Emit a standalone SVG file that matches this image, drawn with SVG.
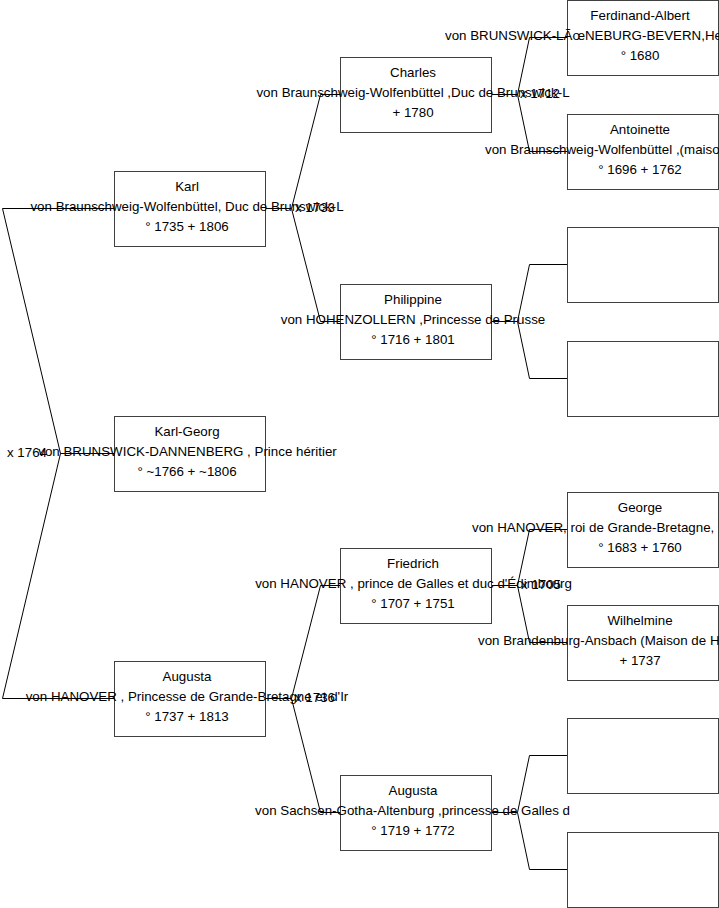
<svg xmlns="http://www.w3.org/2000/svg" width="719" height="908" viewBox="0 0 719 908">
<style>
.box{fill:#fff;stroke:#404040;stroke-width:1}
.con{fill:none;stroke:#000;stroke-width:1}
text{font-family:"Liberation Sans",Arial,sans-serif;font-size:13.33px;fill:#000}
.c{text-anchor:middle}
</style>
<rect width="719" height="908" fill="#fff"/>
<g id="connectors" class="con">
<path d="M114.5,208.5 H2.5 L60.5,453.5 L2.5,698.5 H114.5 M60.5,453.5 H114.5"/>
<path d="M265.5,208.5 H291.5 L320.5,94.5 H340.5 M291.5,208.5 L320.5,321.5 H340.5"/>
<path d="M265.5,698.5 H291.5 L320.5,585.5 H340.5 M291.5,698.5 L320.5,812.5 H340.5"/>
<path d="M491.5,94.5 H517.5 L529.5,37.5 H567.5 M517.5,94.5 L529.5,151.5 H567.5"/>
<path d="M491.5,321.5 H517.5 L529.5,264.5 H567.5 M517.5,321.5 L529.5,378.5 H567.5"/>
<path d="M491.5,585.5 H517.5 L529.5,529.5 H567.5 M517.5,585.5 L529.5,642.5 H567.5"/>
<path d="M491.5,812.5 H517.5 L529.5,755.5 H567.5 M517.5,812.5 L529.5,869.5 H567.5"/>
</g>
<g id="marriages">
<text x="7" y="457">x 1764</text>
<text x="295" y="212">x 1733</text>
<text x="295" y="702">x 1736</text>
<text x="520" y="98">x 1712</text>
<text x="521" y="589">x 1705</text>
</g>
<g id="karl-georg">
<rect class="box" x="114.5" y="416.5" width="151" height="75"/>
<text class="c" x="187" y="436">Karl-Georg</text>
<text class="c" x="187.5" y="456">von BRUNSWICK-DANNENBERG , Prince héritier</text>
<text class="c" x="187" y="476">° ~1766 + ~1806</text>
</g>
<g id="karl">
<rect class="box" x="114.5" y="171.5" width="151" height="75"/>
<text class="c" x="187" y="191">Karl</text>
<text class="c" x="187" y="211">von Braunschweig-Wolfenbüttel, Duc de Brunswick-L</text>
<text class="c" x="187" y="231">° 1735 + 1806</text>
</g>
<g id="augusta">
<rect class="box" x="114.5" y="661.5" width="151" height="75"/>
<text class="c" x="187" y="681">Augusta</text>
<text class="c" x="187" y="701">von HANOVER , Princesse de Grande-Bretagne et d'Ir</text>
<text class="c" x="187" y="721">° 1737 + 1813</text>
</g>
<g id="charles">
<rect class="box" x="340.5" y="57.5" width="151" height="75"/>
<text class="c" x="413" y="77">Charles</text>
<text class="c" x="413" y="97">von Braunschweig-Wolfenbüttel ,Duc de Brunswick-L</text>
<text class="c" x="413" y="117">+ 1780</text>
</g>
<g id="philippine">
<rect class="box" x="340.5" y="284.5" width="151" height="75"/>
<text class="c" x="413" y="304">Philippine</text>
<text class="c" x="413" y="324">von HOHENZOLLERN ,Princesse de Prusse</text>
<text class="c" x="413" y="344">° 1716 + 1801</text>
</g>
<g id="friedrich">
<rect class="box" x="340.5" y="548.5" width="151" height="75"/>
<text class="c" x="413" y="568">Friedrich</text>
<text class="c" x="413.5" y="588">von HANOVER , prince de Galles et duc d'Édimbourg</text>
<text class="c" x="413" y="608">° 1707 + 1751</text>
</g>
<g id="augusta2">
<rect class="box" x="340.5" y="775.5" width="151" height="75"/>
<text class="c" x="413" y="795">Augusta</text>
<text class="c" x="412.5" y="815">von Sachsen-Gotha-Altenburg ,princesse de Galles d</text>
<text class="c" x="413" y="835">° 1719 + 1772</text>
</g>
<g id="ferdinand-albert">
<rect class="box" x="567.5" y="0.5" width="151" height="75"/>
<text class="c" x="640" y="20">Ferdinand-Albert</text>
<text x="445" y="40">von BRUNSWICK-LÃœNEBURG-BEVERN,He</text>
<text class="c" x="640" y="60">° 1680</text>
</g>
<g id="antoinette">
<rect class="box" x="567.5" y="114.5" width="151" height="75"/>
<text class="c" x="640" y="134">Antoinette</text>
<text x="485" y="154">von Braunschweig-Wolfenbüttel ,(maiso</text>
<text class="c" x="640" y="174">° 1696 + 1762</text>
</g>
<g id="unknown1"><rect class="box" x="567.5" y="227.5" width="151" height="75"/></g>
<g id="unknown2"><rect class="box" x="567.5" y="341.5" width="151" height="75"/></g>
<g id="george">
<rect class="box" x="567.5" y="492.5" width="151" height="75"/>
<text class="c" x="640" y="512">George</text>
<text x="472" y="532">von HANOVER, roi de Grande-Bretagne,</text>
<text class="c" x="640" y="552">° 1683 + 1760</text>
</g>
<g id="wilhelmine">
<rect class="box" x="567.5" y="605.5" width="151" height="75"/>
<text class="c" x="640" y="625">Wilhelmine</text>
<text x="478" y="645">von Brandenburg-Ansbach (Maison de H</text>
<text class="c" x="640" y="665">+ 1737</text>
</g>
<g id="unknown3"><rect class="box" x="567.5" y="718.5" width="151" height="75"/></g>
<g id="unknown4"><rect class="box" x="567.5" y="832.5" width="151" height="75"/></g>
</svg>
